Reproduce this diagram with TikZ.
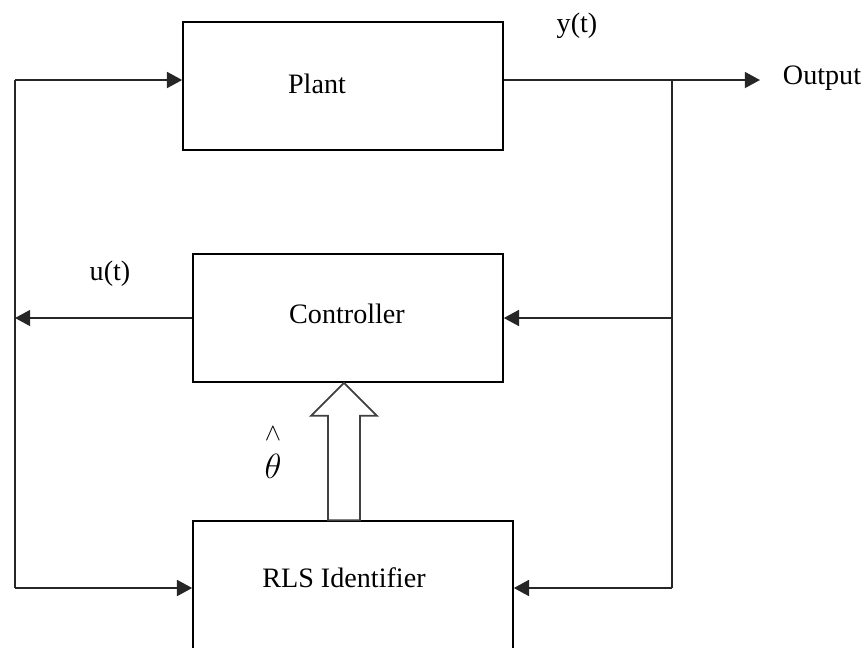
\documentclass[tikz,border=0pt]{standalone}
\usepackage{fontspec}
\setmainfont{Liberation Serif}
\usepackage{tikz}
\usetikzlibrary{arrows.meta,calc}

\begin{document}
\begin{tikzpicture}[x=0.025cm, y=-0.025cm,
  every node/.style={font=\fontsize{20}{24}\selectfont},
  block/.style={draw, line width=1.1pt, inner sep=0pt, minimum height=3.2cm},
  conn/.style={line width=1.3pt, black!85},
  arr/.style={conn, -{Triangle[length=0.38cm, width=0.4cm]}},
  hollow/.style={line width=1.3pt, black!75, fill=white}]

%% ── Scale: 1 unit = 1px of the 867x647 frame, y pointing down ────────────────
\clip (0,0) rectangle (867,647);

%% ── Blocks ───────────────────────────────────────────────────────────────────
\node[block, minimum width=8cm]    (plant) at (343,86)  {};
\node[block, minimum width=7.75cm] (ctrl)  at (348,318) {};
\node[block, minimum width=8cm]    (rls)   at (353,585) {};

\node (plantlbl) at (317,84)  {Plant};
\node (ctrllbl)  at (347,314) {Controller};
\node (rlslbl)   at (344,578) {RLS Identifier};

%% ── Bus points ───────────────────────────────────────────────────────────────
% left bus x=15, right bus x=672, top row y=80, bottom row y=588
\coordinate (ul)  at (15,80);
\coordinate (ll)  at (15,588);
\coordinate (ur)  at (672,80);
\coordinate (lr)  at (672,588);
\coordinate (out) at (760,80);

%% ── Output y(t) ──────────────────────────────────────────────────────────────
\draw[arr] (plant.east |- ur) -- (out);
\node (ylbl)   at (577,26) {y(t)};
\node (outlbl) at (822,78) {Output};

%% ── Right bus: y(t) back to controller and identifier ───────────────────────
\draw[conn] (ur) -- (lr);
\draw[arr] (ctrl.east -| ur) -- (ctrl.east);
\draw[arr] (lr) -- (lr -| rls.east);

%% ── Left bus: u(t) to plant and identifier ──────────────────────────────────
\draw[arr] (ctrl.west) -- (ctrl.west -| ul);
\node (ulbl) at (110,274) {u(t)};
\draw[conn] (ul) -- (ll);
\draw[arr] (ul) -- (ul -| plant.west);
\draw[arr] (ll) -- (ll -| rls.west);

%% ── Parameter estimate (hollow arrow) ────────────────────────────────────────
\coordinate (tip) at (344,0 |- ctrl.south);
\coordinate (shl) at ($(tip)+(-16,0)$);
\coordinate (shr) at ($(tip)+(16,0)$);
\draw[hollow]
  (tip) -- ++(33,33) -- ++(-17,0) -- (shr |- rls.north)
  -- (shl |- rls.north) -- ($(tip)+(-16,33)$) -- ++(-17,0) -- cycle;
\node[align=center, inner sep=0pt, font=\fontsize{24}{30}\selectfont]
  (thlbl) at (273,453) {$\scriptstyle\wedge$\\[-3pt]$\theta$};

\end{tikzpicture}
\end{document}
